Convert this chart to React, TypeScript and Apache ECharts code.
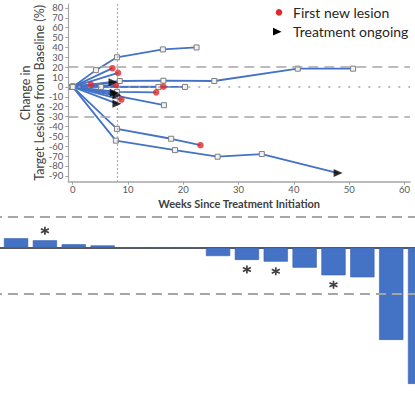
import React, { useEffect, useRef } from "react";
import * as echarts from "echarts";

// ---------- data ----------
const weekTicks = [0, 10, 20, 30, 40, 50, 60];
const pctTicks = [-90, -80, -70, -60, -50, -40, -30, -20, -10, 0, 10, 20, 30, 40, 50, 60, 70, 80];
const thresholds = [20, -30];
const landmarkWeek = 8;

// spider plot: [week, % change]
const pt01 = [[0, 0], [4.2, 17], [8, 30], [16.3, 38], [22.4, 40]];
const pt02 = [[0, 0], [7.2, 19]];
const pt03 = [[0, 0], [8.2, 14.2]];
const pt04 = [[0, 0], [8.5, 6], [16.4, 6.3], [25.6, 6], [40.7, 18.5], [50.7, 18.5]];
const pt05 = [[0, 0], [7.3, 4.7]];
const pt06 = [[0, 0], [3.3, 2.3]];
const pt07 = [[0, 0], [7.8, 2]];
const pt08 = [[0, 0], [5.1, 0], [15.5, 0], [20.3, 0]];
const pt09 = [[0, 0], [16.4, 0.3]];
const pt10 = [[0, 0], [7.5, -6]];
const pt11 = [[0, 0], [8, -8.5]];
const pt12 = [[0, 0], [8, -5], [15.1, -5.5]];
const pt13 = [[0, 0], [8.8, -12.8]];
const pt14 = [[0, 0], [8, -17]];
const pt15 = [[0, 0], [8, -9], [16.5, -18.5]];
const pt16 = [[0, 0], [8, -42.5], [17.8, -52.5], [23.1, -59]];
const pt17 = [[0, 0], [7.8, -54.4], [18.5, -64], [26.2, -70.7], [34.2, -68], [48, -87.3]];

const spiderLines = [pt01, pt02, pt03, pt04, pt05, pt06, pt07, pt08, pt09, pt10, pt11, pt12, pt13, pt14, pt15, pt16, pt17];
// end marker of each line: "none" | "lesion" | "ongoing"
const spiderEnds = ["none", "lesion", "lesion", "none", "ongoing", "lesion", "lesion", "none", "lesion", "ongoing", "ongoing", "lesion", "lesion", "ongoing", "none", "lesion", "ongoing"];

// waterfall: best % change per patient
const barValues = [19, 15, 6.1, 4.8, 2.2, 1.5, 0, 0, 0, -5.4, -7.9, -9, -12.9, -17.8, -19.1, -59.5, -87.9];
const barPatients = barValues.map((_, i) => `Pt ${i + 1}`);
const starredBars = [3, 10, 11, 13];

const legendLesion = "First new lesion";
const legendOngoing = "Treatment ongoing";

// ---------- styles ----------
const BLUE = "#4472C4";
const RED = "#e0282a";
const FONT = "Lato, 'Open Sans', sans-serif";

export default function App() {
  const ref = useRef<HTMLDivElement>(null);

  useEffect(() => {
    if (!ref.current) return;
    const chart = echarts.init(ref.current, undefined, { renderer: "svg" });

    const series: any[] = [];

    // reference lines for the spider plot
    series.push({
      type: "line",
      xAxisIndex: 0,
      yAxisIndex: 0,
      data: [],
      silent: true,
      z: 1,
      markLine: {
        silent: true,
        symbol: ["none", "none"],
        label: { show: false },
        animation: false,
        data: [
          ...thresholds.map((t) => ({ yAxis: t, lineStyle: { type: [10, 6], color: "#a6a6a6", width: 1.6 } })),
          { yAxis: 0, lineStyle: { type: [2, 8], color: "#a6a6a6", width: 1.5 } },
          { xAxis: landmarkWeek, lineStyle: { type: [1.5, 2.5], color: "#9a9a9a", width: 1.3 } },
        ],
      },
    });

    spiderLines.forEach((pts, i) => {
      const end = spiderEnds[i];
      series.push({
        type: "line",
        xAxisIndex: 0,
        yAxisIndex: 0,
        data: pts.map((p, j) => (j === pts.length - 1 && end !== "none" ? { value: p, symbol: "none" } : p)),
        symbol: "rect",
        symbolSize: 5,
        showSymbol: true,
        showAllSymbol: true,
        lineStyle: { color: BLUE, width: 1.8 },
        itemStyle: { color: "#f2f2f2", borderColor: "#7f7f7f", borderWidth: 1 },
        silent: true,
        z: 3,
      });
    });

    series.push({
      name: legendLesion,
      type: "scatter",
      xAxisIndex: 0,
      yAxisIndex: 0,
      data: spiderLines.filter((_, i) => spiderEnds[i] === "lesion").map((pts) => pts[pts.length - 1]),
      symbol: "circle",
      symbolSize: 6.5,
      itemStyle: { color: RED },
      z: 5,
      silent: true,
    });

    series.push({
      name: legendOngoing,
      type: "scatter",
      xAxisIndex: 0,
      yAxisIndex: 0,
      data: spiderLines.filter((_, i) => spiderEnds[i] === "ongoing").map((pts) => pts[pts.length - 1]),
      symbol: "path://M0,0L10,5L0,10Z",
      symbolSize: [9, 8],
      itemStyle: { color: "#000" },
      z: 6,
      silent: true,
    });

    // waterfall
    series.push({
      type: "bar",
      xAxisIndex: 1,
      yAxisIndex: 1,
      data: barValues,
      barWidth: "84%",
      itemStyle: { color: BLUE, borderColor: "#3b63ae", borderWidth: 0.6 },
      silent: true,
      z: 2,
      markLine: {
        silent: true,
        symbol: ["none", "none"],
        label: { show: false },
        animation: false,
        data: thresholds.map((t) => ({ yAxis: t, lineStyle: { type: [10, 6], color: "#a6a6a6", width: 1.8 } })),
      },
    });

    series.push({
      type: "scatter",
      xAxisIndex: 1,
      yAxisIndex: 1,
      data: starredBars.map((i) => ({
        value: [i, barValues[i]],
        symbolOffset: [0, barValues[i] >= 0 ? -9.5 : 9.5],
      })),
      symbol: "path://M5,0L5,10M0.67,2.5L9.33,7.5M0.67,7.5L9.33,2.5",
      symbolSize: 8,
      itemStyle: { color: "#111", borderColor: "#111", borderWidth: 1.7 },
      silent: true,
      z: 4,
    });

    const option: any = {
      animation: false,
      backgroundColor: "#ffffff",
      textStyle: { fontFamily: FONT },
      grid: [
        { left: 68.3, right: 5, top: 4, bottom: 231.3, containLabel: false, outerBoundsMode: "none" },
        { left: -56.1, right: -19.5, top: 201.2, bottom: 10.3, containLabel: false, outerBoundsMode: "none" },
      ],
      xAxis: [
        {
          type: "value",
          gridIndex: 0,
          min: -0.8,
          max: 61,
          splitLine: { show: false },
          axisLine: { show: true, onZero: false, lineStyle: { color: "#a6a6a6", width: 1.5 } },
          axisTick: { show: true, length: 3, customValues: weekTicks, lineStyle: { color: "#a6a6a6" } },
          axisLabel: {
            customValues: weekTicks,
            fontSize: 9.5,
            lineHeight: 10,
            color: "#595959",
            margin: 3,
            fontFamily: FONT,
          },
          name: "Weeks Since Treatment Initiation",
          nameLocation: "middle",
          nameGap: 16,
          nameMoveOverlap: false,
          nameTextStyle: { fontSize: 11, lineHeight: 11, color: "#404040", fontWeight: "bold", fontFamily: FONT },
        },
        {
          type: "category",
          gridIndex: 1,
          data: barPatients,
          axisLine: { show: true, onZero: true, lineStyle: { color: "#595959", width: 2 } },
          axisTick: { show: false },
          axisLabel: { show: false },
          splitLine: { show: false },
        },
      ],
      yAxis: [
        {
          type: "value",
          gridIndex: 0,
          min: -96,
          max: 84,
          splitLine: { show: false },
          axisLine: { show: true, onZero: false, lineStyle: { color: "#a6a6a6", width: 1.2 } },
          axisTick: { show: true, length: 3, customValues: pctTicks, lineStyle: { color: "#a6a6a6" } },
          axisLabel: {
            customValues: pctTicks,
            fontSize: 9.5,
            lineHeight: 9,
            color: "#595959",
            margin: 5,
            fontFamily: FONT,
          },
          name: "Change in\nTarget Lesions from Baseline (%)",
          nameLocation: "middle",
          nameRotate: 90,
          nameGap: 21.5,
          nameMoveOverlap: false,
          nameTextStyle: { fontSize: 12.5, lineHeight: 14, color: "#404040", fontFamily: FONT },
        },
        {
          type: "value",
          gridIndex: 1,
          min: -100,
          max: 30,
          show: false,
          splitLine: { show: false },
        },
      ],
      graphic: [
        { type: "circle", shape: { cx: 279, cy: 12.3, r: 3.3 }, style: { fill: RED }, silent: true },
        {
          type: "text",
          x: 293,
          y: 12.5,
          silent: true,
          style: {
            text: legendLesion,
            fill: "#262626",
            fontSize: 14,
            fontFamily: FONT,
            textAlign: "left",
            textVerticalAlign: "middle",
            align: "left",
            verticalAlign: "middle",
          },
        },
        { type: "polygon", shape: { points: [[273, 27.8], [281.5, 31.7], [273, 35.6]] }, style: { fill: "#000" }, silent: true },
        {
          type: "text",
          x: 293,
          y: 31.5,
          silent: true,
          style: {
            text: legendOngoing,
            fill: "#262626",
            fontSize: 14,
            fontFamily: FONT,
            textAlign: "left",
            textVerticalAlign: "middle",
            align: "left",
            verticalAlign: "middle",
          },
        },
      ],
      series,
    };

    chart.setOption(option);
    return () => {
      chart.dispose();
    };
  }, []);

  return (
    <div
      ref={ref}
      style={{ position: "absolute", left: 0, top: 0, width: 415, height: 413, overflow: "hidden", background: "#fff" }}
    />
  );
}
